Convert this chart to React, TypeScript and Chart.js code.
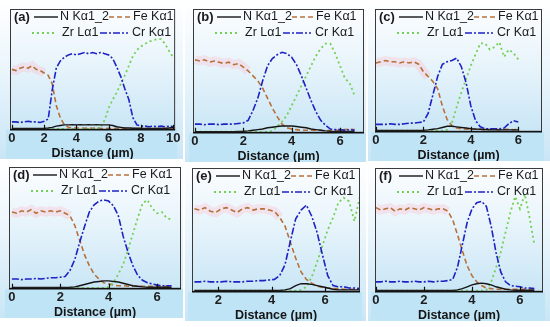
import React, { useEffect, useRef } from "react";
import { Chart, registerables } from "chart.js";
Chart.register(...registerables);

// ---------- data ----------
const SERIES = ["N Kα1_2", "Fe Kα1", "Zr Lα1", "Cr Kα1"];
const X_TITLE = "Distance (µm)";
const PANEL_LABELS = ["(a)", "(b)", "(c)", "(d)", "(e)", "(f)"];

const ticksA = [0, 2, 4, 6, 8, 10];
const ticks06 = [0, 2, 4, 6];
const ticksE = [2, 4, 6];

const xA = [0, 0.25, 0.5, 0.75, 1, 1.25, 1.5, 1.75, 2, 2.25, 2.5, 2.75, 3, 3.25, 3.5, 3.75, 4, 4.25, 4.5, 4.75, 5, 5.25, 5.5, 5.75, 6, 6.25, 6.5, 6.75, 7, 7.25, 7.5, 7.75, 8, 8.25, 8.5, 8.75, 9, 9.25, 9.5, 9.75, 10];
const xB = [0, 0.2, 0.4, 0.6, 0.8, 1, 1.2, 1.4, 1.6, 1.8, 2, 2.2, 2.4, 2.6, 2.8, 3, 3.2, 3.4, 3.6, 3.8, 4, 4.2, 4.4, 4.6, 4.8, 5, 5.2, 5.4, 5.6, 5.8, 6, 6.2, 6.4, 6.6];
const xC = [0, 0.2, 0.4, 0.6, 0.8, 1, 1.2, 1.4, 1.6, 1.8, 2, 2.2, 2.4, 2.6, 2.8, 3, 3.2, 3.4, 3.6, 3.8, 4, 4.2, 4.4, 4.6, 4.8, 5, 5.2, 5.4, 5.6, 5.8, 6];
const xE = [1.1, 1.3, 1.5, 1.7, 1.9, 2.1, 2.3, 2.5, 2.7, 2.9, 3.1, 3.3, 3.5, 3.7, 3.9, 4.1, 4.3, 4.5, 4.7, 4.9, 5.1, 5.3, 5.5, 5.7, 5.9, 6.1, 6.3, 6.5, 6.7, 6.9, 7.1, 7.3];

// (a)
const nA = [1, 1, 1, 1, 1, 1, 1, 1, 1.2, 1.5, 2, 3, 3.5, 4, 4, 4.2, 4, 4.2, 4, 4.2, 4, 4.2, 4, 4, 4, 3.5, 2.5, 2, 1.5, 1.5, 1.2, 1.2, 1, 1, 1, 1, 1, 1, 1, 1.5, 2];
const feA = [50, 49, 51, 52, 51, 53, 50, 49, 47, 45, 38, 20, 10, 4, 2, 1.5, 1.5, 1.5, 1.2, 1.5, 1.2, 1.5, 1.2, 1, 1.2, 1, 1.2, 1, 1, 1.2, 1, 1, 1.2, 1, 1, 1.2, 1, 1, 1.2, 1, 1];
const zrA = [0.8, 0.8, 0.8, 0.8, 0.8, 0.8, 0.8, 0.8, 0.8, 0.8, 0.8, 0.8, 0.8, 0.8, 0.8, 0.8, 0.8, 0.8, 0.8, 0.8, 0.8, 0.8, 2, 8, 18, 25, 31, 38, 45, 53, 61, 66, 69, 71, 73, 74, 75, 75, 71, 65, 60];
const crA = [6.5, 6.5, 6, 6.5, 7, 6.5, 6.5, 6, 7, 9, 33, 51, 57, 60, 62, 63, 62, 63, 64, 63, 64, 63, 64, 63, 62, 59, 52, 44, 34, 25, 10, 4, 3, 3, 2.5, 3, 2.5, 3, 2.5, 3, 2.5];

// (b)
const nB = [0.8, 0.8, 0.8, 0.8, 0.8, 0.8, 0.8, 0.8, 0.8, 1, 1.2, 1.5, 2, 2.5, 3, 4, 4.5, 5, 5.5, 5.5, 5.5, 5, 4.5, 4, 3, 2.5, 2, 1.5, 1.2, 1, 1, 1, 1, 1];
const feB = [59, 58, 59, 57, 58, 57, 56, 57, 55, 56, 53, 50, 46, 42, 36, 28, 20, 13, 7, 4, 3, 2.5, 2, 2, 2, 2, 2, 1.5, 2, 2, 2, 2.5, 3, 2.5];
const zrB = [0.8, 0.8, 0.8, 0.8, 0.8, 0.8, 0.8, 0.8, 0.8, 0.8, 0.8, 0.8, 0.8, 0.8, 0.8, 0.8, 1.5, 5, 9, 14, 22, 30, 38, 46, 54, 62, 68, 72, 72, 64, 54, 44, 40, 30];
const crB = [7, 7, 6.5, 7, 7, 6.5, 7, 7, 7, 7.5, 8, 10, 18, 28, 42, 54, 60, 63, 65, 64, 61, 55, 46, 36, 26, 17, 10, 6, 3, 2.5, 2.5, 2, 2.5, 2];

// (c)
const nC = [1, 1, 1, 1, 1, 1, 1, 1, 1, 1, 1.2, 1.5, 2, 2.5, 3.5, 4.5, 4.5, 4, 3.5, 3, 2.5, 2.2, 2, 1.8, 1.5, 1.5, 1.5, 1.5, 1.5, 1.5, 1.5];
const feC = [56, 57, 58, 57, 57, 56, 57, 56, 57, 55, 49, 45, 41, 35, 21, 10, 5, 3, 2.5, 2, 2, 2, 2, 1.5, 2, 2, 1.5, 2, 2, 1.5, 2];
const zrC = [0.8, 0.8, 0.8, 0.8, 0.8, 0.8, 0.8, 0.8, 0.8, 0.8, 0.8, 0.8, 0.8, 0.8, 0.8, 1.5, 7, 20, 32, 43, 54, 63, 72, 72, 67, 69, 73, 61, 67, 64, 59];
const crC = [6, 6, 6, 6.5, 6, 6, 6.5, 7, 7, 7.5, 8, 15, 30, 45, 55, 57, 58, 60, 53, 40, 21, 9, 4, 2.5, 2.5, 2.5, 2.5, 3, 6.5, 9, 8];

// (d)
const nD = [1, 1, 1, 1, 1, 1, 1, 1, 1, 1, 1, 1, 1.2, 1.5, 2.5, 3.5, 4.5, 5.5, 6, 6.5, 6.5, 6, 5.5, 4.5, 3.5, 2.5, 2, 1.5, 1.2, 1.2, 1.2, 1.2, 1.2, 1.2];
const feD = [63, 62, 64, 63, 65, 62, 64, 63, 64, 63, 64, 62, 60, 52, 40, 28, 19, 12, 8, 5, 4, 3, 2.5, 2.5, 2, 2, 2, 2, 2, 2, 2, 2, 2, 2];
const zrD = [0.8, 0.8, 0.8, 0.8, 0.8, 0.8, 0.8, 0.8, 0.8, 0.8, 0.8, 0.8, 0.8, 0.8, 0.8, 0.8, 0.8, 0.8, 0.8, 0.8, 1.5, 5, 12, 20, 32, 45, 58, 70, 73, 66, 62, 63, 58, 57];
const crD = [8, 8, 7.5, 8, 8, 8.5, 8, 8.5, 9, 9, 9.5, 10, 15, 24, 38, 51, 63, 69, 72, 73, 72, 68, 60, 43, 30, 19, 11, 7, 5, 4, 3, 2.5, 2.5, 2.5];

// (e)
const nE = [1, 1, 1, 1, 1, 1, 1, 1, 1, 1, 1, 1, 1, 1, 1, 1, 1, 1.5, 2.5, 5, 6.5, 6.5, 6, 5, 4, 3, 2, 1.5, 1.5, 1.5, 1.5, 1.5];
const feE = [67, 66, 68, 65, 64, 67, 68, 66, 64, 67, 68, 66, 67, 67, 66, 65, 60, 53, 40, 27, 16, 10, 7, 4.5, 3.5, 3, 2.5, 2.5, 2, 2, 2, 2];
const zrE = [0.8, 0.8, 0.8, 0.8, 0.8, 0.8, 0.8, 0.8, 0.8, 0.8, 0.8, 0.8, 0.8, 0.8, 0.8, 0.8, 0.8, 0.8, 0.8, 0.8, 1.5, 4, 12, 24, 37, 50, 60, 72, 76, 73, 57, 76];
const crE = [8, 8, 8.5, 8, 8, 8, 8.5, 8, 8, 8, 8.5, 8.5, 9, 9, 9.5, 10, 13, 22, 41, 59, 66, 70, 61, 48, 30, 13, 5, 4, 4, 3, 3, 2.5];

// (f)
const nF = [1, 1, 1, 1, 1, 1, 1, 1, 1, 1, 1, 1, 1, 1, 1, 1, 1, 1.5, 2.5, 4, 5.5, 6.5, 7, 6.5, 5.5, 4, 3, 2, 1.5, 1.2, 1.2, 1.2, 1.2, 1.2];
const feF = [68, 66, 67, 68, 65, 67, 66, 68, 67, 66, 68, 67, 66, 67, 67, 65, 58, 46, 33, 21, 13, 8, 5, 3, 2.5, 2, 2, 2, 2, 2, 2, 2, 2, 2];
const zrF = [0.8, 0.8, 0.8, 0.8, 0.8, 0.8, 0.8, 0.8, 0.8, 0.8, 0.8, 0.8, 0.8, 0.8, 0.8, 0.8, 0.8, 0.8, 0.8, 0.8, 0.8, 0.8, 0.8, 1.5, 8, 19, 32, 48, 64, 77, 67, 79, 60, 38];
const crF = [8, 8, 8.5, 8, 8, 8.5, 8, 8, 8.5, 8, 8, 8.5, 8, 8.5, 8.5, 9, 10, 20, 38, 56, 67, 72, 73, 69, 53, 32, 16, 8, 5, 4.5, 4, 3, 3, 2.5];

// ---------- layout / style ----------
const COLORS = { n: "#151515", fe: "#b8703a", zr: "#72d152", cr: "#1d22c2" };
const FONT = "'Liberation Sans', Arial, sans-serif";

type P = {
  label: string; tile: { x: number; y: number; w: number; h: number };
  area: { l: number; r: number; t: number };
  xmin: number; xmax: number; ticks: number[]; xs: number[];
  n: number[]; fe: number[]; zr: number[]; cr: number[]; pinkEnd: number;
};

const PANELS: P[] = [
  { label: PANEL_LABELS[0], tile: { x: 0, y: 0, w: 183, h: 159 }, area: { l: 10, r: 176, t: 9 }, xmin: -0.12, xmax: 10.12, ticks: ticksA, xs: xA, n: nA, fe: feA, zr: zrA, cr: crA, pinkEnd: 2 },
  { label: PANEL_LABELS[1], tile: { x: 185, y: 0, w: 181, h: 162 }, area: { l: 193, r: 364, t: 9 }, xmin: -0.08, xmax: 6.99, ticks: ticks06, xs: xB, n: nB, fe: feB, zr: zrB, cr: crB, pinkEnd: 2.2 },
  { label: PANEL_LABELS[2], tile: { x: 368, y: 0, w: 182, h: 161 }, area: { l: 375, r: 542, t: 9 }, xmin: -0.04, xmax: 7.0, ticks: ticks06, xs: xC, n: nC, fe: feC, zr: zrC, cr: crC, pinkEnd: 2.2 },
  { label: PANEL_LABELS[3], tile: { x: 0, y: 163, w: 183, h: 155 }, area: { l: 9, r: 181, t: 167 }, xmin: -0.12, xmax: 6.99, ticks: ticks06, xs: xB, n: nD, fe: feD, zr: zrD, cr: crD, pinkEnd: 2.4 },
  { label: PANEL_LABELS[4], tile: { x: 185, y: 163, w: 181, h: 158 }, area: { l: 192, r: 360, t: 168 }, xmin: 1.01, xmax: 7.31, ticks: ticksE, xs: xE, n: nE, fe: feE, zr: zrE, cr: crE, pinkEnd: 4.3 },
  { label: PANEL_LABELS[5], tile: { x: 368, y: 163, w: 182, h: 158 }, area: { l: 375, r: 543, t: 168 }, xmin: -0.04, xmax: 6.96, ticks: ticks06, xs: xB, n: nF, fe: feF, zr: zrF, cr: crF, pinkEnd: 3.1 },
];

function Panel({ p }: { p: P }) {
  const ref = useRef<HTMLCanvasElement>(null);
  useEffect(() => {
    const canvas = ref.current!;
    const pts = (ys: number[]) => p.xs.map((x, i) => ({ x, y: ys[i] }));
    const pink = pts(p.fe).filter((pt) => pt.x <= p.pinkEnd);

    const bgPlugin = {
      id: "bg",
      beforeDraw(chart: any) {
        const { ctx, chartArea: a, height } = chart;
        ctx.save();
        const g = ctx.createLinearGradient(0, a.top, 0, a.bottom);
        g.addColorStop(0, "#fbfdff");
        g.addColorStop(0.45, "#e8f4fb");
        g.addColorStop(1, "#c9e6f6");
        ctx.fillStyle = g;
        ctx.fillRect(a.left, a.top, a.right - a.left, a.bottom - a.top);
        ctx.fillStyle = "#bfe4f6";
        ctx.fillRect(a.left - 4, a.bottom, a.right - a.left + 6, height - a.bottom);
        ctx.restore();
      },
    };

    const fgPlugin = {
      id: "fg",
      afterDraw(chart: any) {
        const { ctx, chartArea: a, scales } = chart;
        ctx.save();
        ctx.strokeStyle = "#3a3a3a";
        ctx.lineWidth = 1;
        ctx.strokeRect(a.left + 0.5, a.top + 0.5, a.right - a.left - 1, a.bottom - a.top - 1);
        ctx.strokeStyle = "#111";
        ctx.lineWidth = 1.6;
        ctx.beginPath();
        ctx.moveTo(a.left, a.bottom);
        ctx.lineTo(a.right, a.bottom);
        ctx.stroke();
        ctx.lineWidth = 1.2;
        p.ticks.forEach((v) => {
          const x = Math.round(scales.x.getPixelForValue(v)) + 0.5;
          ctx.beginPath();
          ctx.moveTo(x, a.bottom);
          ctx.lineTo(x, a.bottom - 5);
          ctx.stroke();
        });
        // legend
        const y1 = a.top + 8;
        const y2 = a.top + 24;
        const L = a.left;
        ctx.textBaseline = "middle";
        ctx.fillStyle = "#1a1a1a";
        ctx.font = `bold 13px ${FONT}`;
        ctx.fillText(p.label, L + 4, y1);
        const sample = (x0: number, x1: number, y: number, color: string, dash: number[], w: number) => {
          ctx.strokeStyle = color;
          ctx.lineWidth = w;
          ctx.setLineDash(dash);
          ctx.beginPath();
          ctx.moveTo(L + x0, y);
          ctx.lineTo(L + x1, y);
          ctx.stroke();
          ctx.setLineDash([]);
        };
        sample(24, 48, y1, COLORS.n, [], 1.4);
        sample(99, 120, y1, COLORS.fe, [5, 3], 1.6);
        sample(22, 46, y2, COLORS.zr, [2, 3], 1.8);
        sample(90, 118, y2, COLORS.cr, [7, 2, 2, 2], 1.6);
        ctx.font = `12.5px ${FONT}`;
        ctx.fillStyle = "#1a1a1a";
        ctx.fillText(SERIES[0], L + 50, y1);
        ctx.fillText(SERIES[1], L + 123, y1);
        ctx.fillText(SERIES[2], L + 52, y2);
        ctx.fillText(SERIES[3], L + 122, y2);
        ctx.restore();
      },
    };

    const chart = new Chart(canvas, {
      type: "line",
      data: {
        datasets: [
          { label: SERIES[0], data: pts(p.n), borderColor: COLORS.n, borderWidth: 1.4 },
          { label: SERIES[3], data: pts(p.cr), borderColor: COLORS.cr, borderWidth: 1.6, borderDash: [7, 2, 2, 2] },
          { label: SERIES[2], data: pts(p.zr), borderColor: COLORS.zr, borderWidth: 1.8, borderDash: [2, 3] },
          { label: SERIES[1], data: pts(p.fe), borderColor: COLORS.fe, borderWidth: 1.6, borderDash: [5, 3] },
          { label: "highlight", data: pink, borderColor: "rgba(255,175,195,0.28)", borderWidth: 9, borderCapStyle: "butt" },
        ],
      },
      options: {
        responsive: false,
        animation: false,
        layout: {
          padding: {
            left: p.area.l - p.tile.x,
            right: p.tile.x + p.tile.w - p.area.r,
            top: p.area.t - p.tile.y,
            bottom: 0,
          },
        },
        plugins: { legend: { display: false }, tooltip: { enabled: false } },
        elements: { point: { radius: 0 }, line: { tension: 0 } },
        scales: {
          x: {
            type: "linear",
            min: p.xmin,
            max: p.xmax,
            afterBuildTicks: (s: any) => {
              s.ticks = p.ticks.map((v) => ({ value: v }));
            },
            ticks: {
              font: { family: FONT, size: 13, weight: "bold", lineHeight: 1 },
              color: "#1e1e1e",
              padding: 2.5,
              maxRotation: 0,
              autoSkip: false,
            },
            grid: { display: false, drawTicks: false },
            border: { display: false },
            title: {
              display: true,
              text: X_TITLE,
              color: "#151515",
              font: { family: FONT, size: 12.5, weight: "bold", lineHeight: 0.9 },
              padding: { top: 0, bottom: 0 },
            },
          },
          y: { display: false, min: 0, max: 100 },
        },
      },
      plugins: [bgPlugin, fgPlugin],
    } as any);
    return () => chart.destroy();
  }, [p]);

  return (
    <div
      style={{
        position: "absolute",
        left: p.tile.x,
        top: p.tile.y,
        width: p.tile.w,
        height: p.tile.h,
        background: "linear-gradient(to bottom, #ffffff 0%, #eaf5fc 45%, #c9e6f6 100%)",
      }}
    >
      <canvas ref={ref} width={p.tile.w} height={p.tile.h} style={{ display: "block", width: p.tile.w, height: p.tile.h }} />
    </div>
  );
}

export default function App() {
  return (
    <div style={{ position: "absolute", left: 0, top: 0, width: 550, height: 327, background: "#ffffff", overflow: "hidden" }}>
      {PANELS.map((p) => (
        <Panel key={p.label} p={p} />
      ))}
    </div>
  );
}
